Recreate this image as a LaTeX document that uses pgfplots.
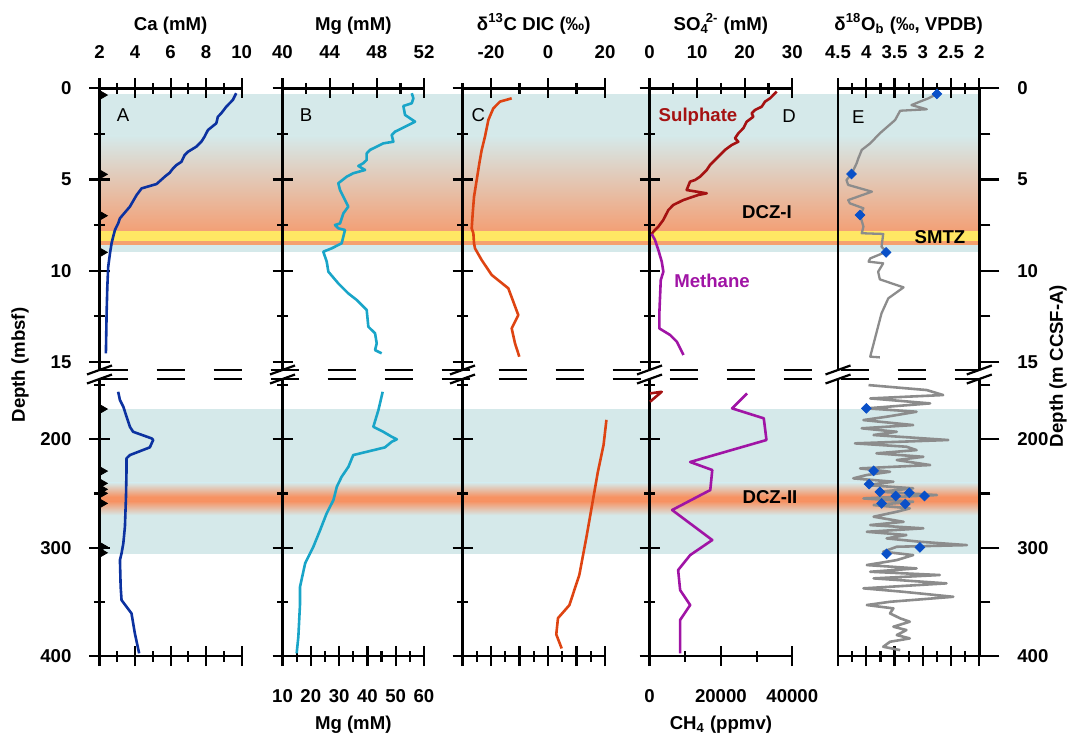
\documentclass[border=0pt]{standalone}
\usepackage{pgfplots}
\pgfplotsset{compat=1.18}
\usepackage{fontspec}
\setmainfont{Liberation Sans}
\definecolor{bgteal}{RGB}{213,233,234}
\definecolor{bandorange}{RGB}{243,160,118}
\definecolor{peakorange}{RGB}{247,146,98}
\definecolor{smtzyellow}{RGB}{255,231,100}
\definecolor{smtzorange}{RGB}{245,160,110}
\definecolor{caBlue}{RGB}{12,50,160}
\definecolor{mgCyan}{RGB}{25,165,200}
\definecolor{dicRed}{RGB}{222,68,18}
\definecolor{so4Red}{RGB}{165,18,18}
\definecolor{ch4Purple}{RGB}{160,20,165}
\definecolor{oGray}{RGB}{140,140,140}
\definecolor{dBlue}{RGB}{10,80,200}
\newcommand{\fs}{\fontsize{9.3}{11}\selectfont}
\newcommand{\brk}[2]{\draw[line width=1.1pt] (axis cs:#1,#2) ++(-6.25pt,-2.25pt) -- ++(12.5pt,4.5pt);}
\pgfplotsset{
  panel/.style={scale only axis, clip=false, y dir=reverse, anchor=north west,
    tick style={black, line width=1.1pt},
    major tick length=10pt, minor tick length=5.5pt, tick align=outside,
    tick label style={font=\fs\bfseries},
    label style={font=\fs\bfseries},
    yticklabel shift=5.5pt,
    scaled ticks=false},
  upper/.style={panel, height=140.83pt, ymin=0, ymax=15.45,
    ytick={0,5,10,15}, minor ytick={2.5,7.5,12.5}, axis x line=top, xticklabel shift=6.5pt},
  lower/.style={panel, height=138.53pt, ymin=144.3, ymax=400,
    ytick={200,300,400}, minor ytick={150,250,350}, axis x line=bottom, xticklabel shift=8pt},
  fin/.style={axis line style={-, line width=1.2pt}, xlabel style={font=\fs\bfseries}},
  finU/.style={fin, xlabel style={yshift=-1.5pt}},
  band/.style={scale only axis, clip=false, y dir=reverse, anchor=north west, hide axis,
    xmin=0, xmax=1, width=439.9pt},
  curve/.style={line width=1.3pt, line join=round},
  dia/.style={only marks, mark=square*, mark size=1.7pt, mark options={rotate=45, fill=dBlue, draw=dBlue}},
  tri/.style={only marks, mark=triangle*, mark size=2.4pt, mark options={rotate=-90, fill=black, draw=black}},
}
\begin{document}
\begin{tikzpicture}
\useasboundingbox (0,0) rectangle (535pt,-366.5pt);
% ---------------- background bands ----------------
\begin{axis}[band, at={(49.75pt,-44.15pt)}, height=140.83pt, ymin=0, ymax=15.45]
\fill[bgteal] (axis cs:0,0.3) rectangle (axis cs:1,2.62);
\fill[top color=bgteal, bottom color=bandorange] (axis cs:0,2.6) rectangle (axis cs:1,7.82);
\fill[smtzyellow] (axis cs:0,7.8) rectangle (axis cs:1,8.42);
\fill[smtzorange] (axis cs:0,8.4) rectangle (axis cs:1,8.6);
\fill[bgteal] (axis cs:0,8.58) rectangle (axis cs:1,8.96);
\draw[line width=1.1pt, dash pattern=on 14.25pt off 14.25pt] (axis cs:0,15.45) -- (axis cs:1,15.45);
\node[font=\fs\bfseries] at (axis cs:0.7587,6.79) {DCZ-I};
\node[font=\fs\bfseries] at (axis cs:0.9553,8.16) {SMTZ};
\end{axis}
\begin{axis}[band, at={(49.75pt,-189.5pt)}, height=138.53pt, ymin=144.3, ymax=400]
\fill[bgteal] (axis cs:0,172) rectangle (axis cs:1,306);
\fill[top color=bgteal, bottom color=peakorange] (axis cs:0,240) rectangle (axis cs:1,253);
\fill[peakorange] (axis cs:0,252.8) rectangle (axis cs:1,257.2);
\fill[top color=peakorange, bottom color=bgteal] (axis cs:0,257) rectangle (axis cs:1,270);
\draw[line width=1.1pt, dash pattern=on 14.25pt off 14.25pt] (axis cs:0,144.3) -- (axis cs:1,144.3);
\node[font=\fs\bfseries] at (axis cs:0.7621,253.3) {DCZ-II};
\end{axis}
% ---------------- A upper ----------------
\begin{axis}[upper, at={(49.75pt,-44.15pt)}, width=71.1pt, xmin=2, xmax=10,
  xtick={2,4,6,8,10}, minor xtick={3,5,7,9}, xticklabels={2,4,6,8,10},
  axis y line=left, yticklabels={0,5,10,15}, xlabel={Ca (mM)}, finU]
\addplot[curve, caBlue] coordinates {(9.69,0.27)(9.50,0.64)(9.13,1.01)(8.85,1.37)(8.66,1.56)(8.57,1.92)(8.10,2.29)(7.91,2.65)(7.73,2.93)(7.45,3.20)(6.98,3.48)(6.79,3.66)(6.61,4.03)(6.33,4.21)(6.14,4.39)(5.95,4.63)(5.67,4.85)(5.21,5.25)(4.37,5.49)(4.09,5.85)(3.71,6.49)(3.15,7.13)(3.05,7.41)(2.87,7.77)(2.77,8.14)(2.68,8.50)(2.59,9.05)(2.49,9.79)(2.44,10.88)(2.40,12.34)(2.36,14.54)};
\addplot[tri] coordinates {(2.17,0.37)(2.17,4.72)(2.17,6.99)(2.17,9.0)};
\node[font=\fs] at (axis cs:3.33,1.46) {A};
\brk{2}{15.45}
\end{axis}
% ---------------- B upper ----------------
\begin{axis}[upper, at={(141.25pt,-44.15pt)}, width=70.75pt, xmin=40, xmax=52,
  xtick={40,44,48,52}, minor xtick={42,46,50}, xticklabels={40,44,48,52},
  axis y line=left, yticklabels={}, xlabel={Mg (mM)}, finU]
\addplot[curve, mgCyan] coordinates {(50.96,0.27)(51.10,0.55)(50.96,0.82)(50.25,0.97)(50.39,1.46)(51.24,1.83)(50.39,2.11)(49.54,2.38)(49.26,2.56)(49.40,2.93)(48.55,3.02)(47.99,3.20)(47.42,3.38)(47.14,3.57)(47.14,3.93)(46.85,4.11)(46.43,4.26)(47.00,4.48)(46.00,4.66)(45.44,4.85)(44.73,5.21)(44.88,5.58)(45.16,5.95)(45.58,6.49)(45.16,6.86)(44.88,7.41)(44.45,7.50)(44.73,7.68)(45.30,7.77)(45.16,8.14)(45.02,8.50)(44.17,8.78)(43.46,8.96)(43.75,9.51)(43.89,10.06)(44.73,10.70)(45.58,11.25)(46.29,11.61)(47.14,12.16)(47.28,13.08)(47.85,13.44)(47.99,13.99)(47.85,14.36)(48.41,14.54)};
\node[font=\fs] at (axis cs:41.99,1.46) {B};
\brk{40}{15.45}
\end{axis}
% ---------------- C upper ----------------
\begin{axis}[upper, at={(231.25pt,-44.15pt)}, width=71.25pt, xmin=-30, xmax=20,
  xtick={-20,0,20}, minor xtick={-30,-10,10}, xticklabels={-20,0,20},
  axis y line=left, yticklabels={}, xlabel={δ\textsuperscript{13}C DIC (‰)}, finU]
\addplot[curve, dicRed] coordinates {(-12.74,0.55)(-16.84,0.73)(-19.19,1.10)(-20.94,1.74)(-22.11,2.65)(-23.27,3.38)(-24.09,4.11)(-25.02,5.03)(-25.96,5.95)(-26.42,6.86)(-26.77,7.68)(-26.19,7.95)(-25.96,8.50)(-25.61,8.78)(-23.27,9.42)(-19.75,10.24)(-13.93,10.97)(-10.42,12.44)(-12.74,13.17)(-11.58,13.99)(-10.07,14.72)};
\node[font=\fs] at (axis cs:-24.46,1.46) {C};
\brk{-30}{15.45}
\end{axis}
% ---------------- D upper ----------------
\begin{axis}[upper, at={(324.75pt,-44.15pt)}, width=71.4pt, xmin=0, xmax=30,
  xtick={0,10,20,30}, minor xtick={5,15,25}, xticklabels={0,10,20,30},
  axis y line=left, yticklabels={}, xlabel={SO\textsubscript{4}\kern-0.15em\textsuperscript{2-} (mM)}, finU]
\addplot[curve, so4Red] coordinates {(26.72,0.18)(25.32,0.55)(24.27,0.73)(23.57,1.01)(22.16,1.19)(21.47,1.37)(21.81,1.56)(20.42,1.83)(19.71,2.19)(18.66,2.47)(17.96,2.74)(18.66,2.93)(17.27,3.11)(15.86,3.38)(14.81,3.66)(13.76,3.93)(12.71,4.21)(12.02,4.48)(10.61,4.85)(9.56,5.03)(8.51,5.12)(7.81,5.58)(12.02,5.76)(10.25,5.85)(7.10,6.13)(5.00,6.40)(3.95,6.68)(2.90,7.22)(1.85,7.59)(0.80,7.87)(0.46,7.99)};
\node[font=\fs\bfseries, text=so4Red] at (axis cs:10.19,1.57) {Sulphate};
\node[font=\fs\bfseries, text=ch4Purple] at (axis cs:13.13,10.57) {Methane};
\node[font=\fs] at (axis cs:29.3,1.52) {D};
\brk{0}{15.45}
\end{axis}
\begin{axis}[scale only axis, clip=false, y dir=reverse, anchor=north west, hide axis,
  at={(324.75pt,-44.15pt)}, width=71.4pt, height=140.83pt, xmin=0, xmax=40000, ymin=0, ymax=15.45]
\addplot[curve, ch4Purple] coordinates {(619,7.99)(1547,8.32)(2475,8.87)(3432,9.51)(3882,10.06)(3150,10.52)(2954,11.43)(2757,12.34)(2757,13.17)(5767,13.53)(7651,13.90)(8580,14.26)(9508,14.63)};
\end{axis}
% ---------------- E upper ----------------
\begin{axis}[upper, at={(419pt,-44.15pt)}, width=70.65pt, xmin=2, xmax=4.5, x dir=reverse,
  xtick={2,2.5,3,3.5,4,4.5}, minor xtick={2.25,2.75,3.25,3.75,4.25},
  xticklabels={2,2.5,3,3.5,4,4.5},
  axis y line=box, ytick pos=right, yticklabel pos=right, yticklabels={0,5,10,15},
  xlabel={δ\textsuperscript{18}O\textsubscript{b} (‰, VPDB)}, finU]
\addplot[line width=1.15pt, line join=round, oGray] coordinates {(2.75,0.31)(2.90,0.55)(3.05,0.73)(3.20,0.92)(2.93,1.15)(3.40,1.23)(3.49,1.74)(3.76,2.47)(3.93,3.02)(4.08,3.38)(4.14,3.84)(4.17,4.11)(4.26,4.70)(4.35,5.03)(4.32,5.30)(3.90,5.67)(4.32,6.13)(4.29,6.31)(4.05,6.58)(4.11,6.95)(4.05,7.59)(4.08,7.95)(3.70,7.99)(3.73,8.69)(3.64,8.96)(3.93,9.33)(3.96,9.51)(3.70,9.60)(3.79,10.06)(3.76,10.48)(3.34,10.92)(3.61,11.52)(3.73,12.34)(3.93,14.72)(3.76,14.76)};
\addplot[dia] coordinates {(2.75,0.31)(4.26,4.70)(4.11,6.95)(3.65,9.0)};
\node[font=\fs] at (axis cs:4.14,1.56) {E};
\brk{4.5}{15.45}
\brk{2}{15.45}
\end{axis}
% ---------------- A lower ----------------
\begin{axis}[lower, at={(49.75pt,-189.5pt)}, width=71.1pt, xmin=2, xmax=10,
  xtick={2,4,6,8,10}, minor xtick={3,5,7,9}, xticklabels={},
  axis y line=left, yticklabels={200,300,400}, fin]
\addplot[curve, caBlue] coordinates {(3.05,156.1)(3.15,163.7)(3.34,169.9)(3.71,188.4)(3.89,193.0)(4.93,199.1)(5.02,200.6)(4.83,207.4)(3.71,214.5)(3.52,217.5)(3.52,228.3)(3.49,253.0)(3.43,280.7)(3.34,296.0)(3.24,305.2)(3.15,311.4)(3.19,336.0)(3.24,348.3)(3.52,354.5)(3.80,360.6)(3.99,379.1)(4.23,397.5)};
\addplot[tri] coordinates {(2.17,172.0)(2.17,229.3)(2.17,240.6)(2.17,246.1)(2.17,249.8)(2.17,259.1)(2.17,299.1)(2.17,304.7)};
\brk{2}{144.3}
\end{axis}
% ---------------- B lower ----------------
\begin{axis}[lower, at={(141.25pt,-189.5pt)}, width=70.75pt, xmin=10, xmax=60,
  xtick={10,20,30,40,50,60}, minor xtick={15,25,35,45,55}, xticklabels={10,20,30,40,50,60},
  axis y line=left, yticklabels={}, xlabel={Mg (mM)}, fin]
\addplot[curve, mgCyan] coordinates {(45.4,156.1)(43.9,172.9)(42.1,188.4)(45.6,193.0)(48.6,197.6)(50.4,200.0)(48.6,202.2)(46.2,207.4)(35.0,214.5)(33.3,225.3)(30.9,234.5)(29.2,243.7)(28.0,256.0)(25.6,268.3)(23.3,283.7)(20.9,299.1)(18.0,314.4)(16.2,336.0)(16.2,351.4)(15.6,382.2)(15.0,397.5)};
\brk{10}{144.3}
\end{axis}
% ---------------- C lower ----------------
\begin{axis}[lower, at={(231.25pt,-189.5pt)}, width=71.25pt, xmin=-30, xmax=20,
  xtick={-30,-20,-10,0,10,20}, minor xtick={-25,-15,-5,5,15}, xticklabels={},
  axis y line=left, yticklabels={}, fin]
\addplot[curve, dicRed] coordinates {(20.5,182)(19.5,205)(17.5,230)(15.5,260)(13.5,290)(11.0,325)(7.5,353)(3.5,365)(2.9,380)(4.8,393)};
\brk{-30}{144.3}
\end{axis}
% ---------------- D lower ----------------
\begin{axis}[lower, at={(324.75pt,-189.5pt)}, width=71.4pt, xmin=0, xmax=40000,
  xtick={0,20000,40000}, minor xtick={10000,30000}, xticklabels={0,20000,40000},
  axis y line=left, yticklabels={}, xlabel={CH\textsubscript{4} (ppmv)}, fin]
\addplot[curve, ch4Purple] coordinates {(27340,157.6)(23120,171.4)(32010,180.6)(32760,200.6)(11390,220.9)(17580,228.3)(17020,246.8)(6330,265.2)(17580,292.9)(11390,306.8)(8020,320.6)(8580,339.1)(11390,352.9)(8580,366.7)(8580,397.5)};
\brk{0}{144.3}
\end{axis}
\begin{axis}[scale only axis, clip=false, y dir=reverse, anchor=north west, hide axis,
  at={(324.75pt,-189.5pt)}, width=71.4pt, height=138.53pt, xmin=0, xmax=30, ymin=144.3, ymax=400]
\addplot[curve, so4Red] coordinates {(0.1,157.6)(2.56,156.1)(0.1,165.3)};
\end{axis}
% ---------------- E lower ----------------
\begin{axis}[lower, at={(419pt,-189.5pt)}, width=70.65pt, xmin=2, xmax=4.5, x dir=reverse,
  xtick={2,2.5,3,3.5,4,4.5}, minor xtick={2.25,2.75,3.25,3.75,4.25}, xticklabels={},
  axis y line=box, ytick pos=right, yticklabel pos=right, yticklabels={200,300,400}, fin]
\addplot[line width=1.3pt, line join=round, oGray] coordinates {(3.96,149.9)(2.93,154.5)(2.64,159.1)(3.93,162.2)(2.87,166.8)(3.99,171.4)(3.11,174.5)(3.64,179.1)(4.05,182.2)(3.17,186.8)(4.08,189.8)(3.46,193.0)(3.87,196.0)(2.55,200.6)(4.20,203.7)(3.29,206.8)(3.11,209.9)(3.82,212.9)(2.99,216.1)(3.46,219.1)(2.87,223.7)(4.11,226.8)(3.58,229.9)(3.99,232.9)(4.23,236.0)(3.52,239.1)(3.99,242.2)(3.17,245.2)(3.76,248.4)(2.75,251.4)(4.05,254.5)(3.17,257.6)(3.87,260.6)(3.23,263.7)(3.46,266.8)(3.87,271.4)(3.34,276.1)(3.93,279.1)(2.99,282.1)(3.99,285.3)(3.29,288.3)(3.64,291.4)(3.05,294.5)(2.22,297.6)(3.46,299.1)(3.70,303.7)(3.17,306.8)(3.46,311.4)(3.99,316.0)(3.11,319.1)(3.93,322.2)(2.70,325.2)(3.87,328.3)(2.58,332.9)(4.05,337.5)(3.34,340.7)(2.46,345.3)(3.58,349.9)(3.99,352.9)(3.52,356.0)(3.58,360.6)(3.40,365.2)(3.23,368.3)(3.52,372.9)(3.29,376.0)(3.46,380.6)(3.23,383.7)(3.58,386.8)(3.70,391.4)(3.40,394.5)};
\addplot[dia] coordinates {(4.00,171.4)(3.87,229.0)(3.95,241.3)(3.76,248.4)(3.48,252.3)(3.24,249.3)(2.97,252.3)(3.73,259.1)(3.31,259.7)(3.05,299.7)(3.64,305.6)};
\brk{4.5}{144.3}
\brk{2}{144.3}
\end{axis}
% ---------------- outer labels ----------------
\node[rotate=90, font=\fs\bfseries] at (10pt,-182.5pt) {Depth (mbsf)};
\node[rotate=90, font=\fs\bfseries] at (529pt,-183pt) {Depth (m CCSF-A)};
\end{tikzpicture}
\end{document}
